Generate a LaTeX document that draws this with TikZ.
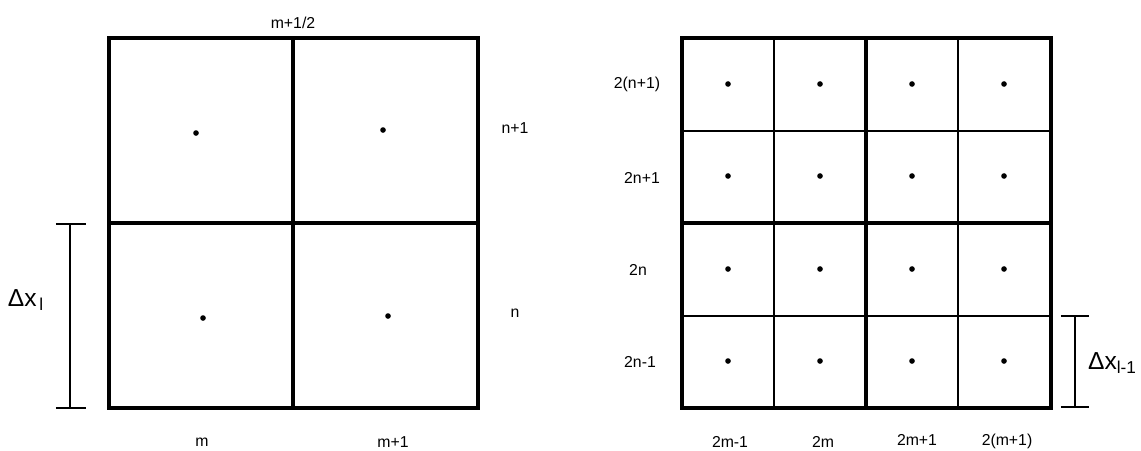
\documentclass[tikz,border=0pt]{standalone}
\usepackage{fontspec}
\setmainfont{Liberation Sans}
\usetikzlibrary{positioning}

\begin{document}
\begin{tikzpicture}[
        x=0.02cm, y=-0.02cm,
        % Estilos para lineas de la malla
        thickline/.style={line width=1.8pt},
        thinline/.style={line width=0.8pt},
        % Puntos de los centros de celda
        celldot/.style={circle, fill=black, inner sep=0pt, minimum size=3.2pt},
        % Etiquetas de indices
        idxlabel/.style={font=\fontsize{9}{11}\selectfont, inner sep=1pt},
        % Etiquetas de tamano de celda
        sizelabel/.style={font=\fontsize{14}{16}\selectfont, inner sep=1pt},
        % Cotas
        dimline/.style={line width=0.8pt}
    ]

    \useasboundingbox (0,0) rectangle (1141,450);

    % Malla gruesa (nivel l)
    \draw[thickline] (109,38) rectangle (478,408);
    \draw[thickline] (293,38) -- (293,408);
    \draw[thickline] (109,223) -- (478,223);

    \node[celldot] (c11) at (196,133) {};
    \node[celldot] (c21) at (383,130) {};
    \node[celldot] (c12) at (203,318) {};
    \node[celldot] (c22) at (388,316) {};

    % Indices malla gruesa
    \node[idxlabel] (lmhalf) at (293,23) {m+1/2};
    \node[idxlabel] (ln1) at (515,128) {n+1};
    \node[idxlabel] (ln) at (515,313) {n};
    \node[idxlabel] (lm) at (202,442) {m};
    \node[idxlabel] (lm1) at (393,442) {m+1};

    % Cota izquierda
    \coordinate (dtop) at (70,224);
    \coordinate (dbot) at (70,408);
    \draw[dimline] (dtop) -- (dbot);
    \draw[dimline] ([xshift=-8]dtop) -- ([xshift=9]dtop);
    \draw[dimline] ([xshift=-8]dbot) -- ([xshift=9]dbot);
    \node[sizelabel] (dxl) at (26,300) {Δx\textsubscript{\,l}};

    % Malla fina (nivel l-1)
    \foreach \xx in {774,958} {
        \draw[thinline] (\xx,38) -- (\xx,408);
    }
    \foreach \yy in {131,316} {
        \draw[thinline] (682,\yy) -- (1051,\yy);
    }
    \draw[thickline] (866,38) -- (866,408);
    \draw[thickline] (682,223) -- (1051,223);
    \draw[thickline] (682,38) rectangle (1051,408);

    \foreach \xx [count=\i] in {728,820,912,1004} {
        \foreach \yy [count=\j] in {84,176,269,361} {
            \node[celldot] (f\i\j) at (\xx,\yy) {};
        }
    }

    % Indices malla fina
    \node[idxlabel] (rn1) at (637,84) {2(n+1)};
    \node[idxlabel] (r2n1) at (642,178) {2n+1};
    \node[idxlabel] (r2n) at (638,270) {2n};
    \node[idxlabel] (r2nm) at (640,362) {2n-1};
    \node[idxlabel] (r2mm) at (730,442) {2m-1};
    \node[idxlabel] (r2m) at (823,442) {2m};
    \node[idxlabel] (r2mp) at (917,440) {2m+1};
    \node[idxlabel] (r2m1) at (1007,441) {2(m+1)};

    % Cota derecha
    \coordinate (etop) at (1075,316);
    \coordinate (ebot) at (1075,407);
    \draw[dimline] (etop) -- (ebot);
    \draw[dimline] ([xshift=-8]etop) -- ([xshift=8]etop);
    \draw[dimline] ([xshift=-8]ebot) -- ([xshift=8]ebot);
    \node[sizelabel, anchor=west] (dxl1) at (1086,363) {Δx\textsubscript{l-1}};

\end{tikzpicture}
\end{document}
